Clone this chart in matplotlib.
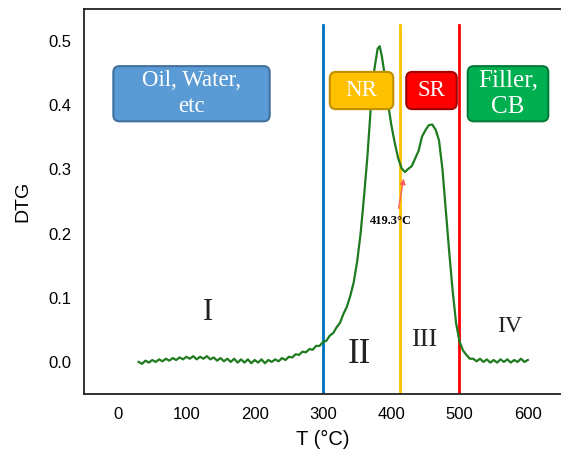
import matplotlib.pyplot as plt
from matplotlib.patches import FancyBboxPatch

# DTG curve (temperature in °C, derivative weight loss)
temp = [30, 35, 40, 45, 50, 55, 60, 65, 70, 75, 80, 85, 90, 95, 100, 105, 110, 115,
        120, 125, 130, 135, 140, 145, 150, 155, 160, 165, 170, 175, 180, 185, 190,
        195, 200, 205, 210, 215, 220, 225, 230, 235, 240, 245, 250, 255, 260, 265,
        270, 275, 280, 285, 290, 295, 300, 305, 310, 315, 320, 325, 330, 335, 340,
        345, 350, 355, 360, 365, 370, 375, 380, 383, 386, 390, 395, 400, 405, 410,
        415, 420, 425, 430, 435, 440, 445, 450, 455, 460, 465, 470, 475, 480, 485,
        490, 495, 500, 505, 510, 515, 520, 525, 530, 535, 540, 545, 550, 555, 560,
        565, 570, 575, 580, 585, 590, 595, 600]
dtg = [0.000, -0.003, 0.002, -0.001, 0.003, 0.000, 0.004, 0.001, 0.005, 0.002, 0.006,
       0.003, 0.007, 0.004, 0.008, 0.005, 0.009, 0.004, 0.008, 0.005, 0.009, 0.004,
       0.007, 0.002, 0.006, 0.001, 0.005, 0.000, 0.005, -0.001, 0.004, -0.001, 0.004,
       -0.002, 0.003, -0.001, 0.004, -0.002, 0.003, 0.000, 0.004, 0.001, 0.006, 0.003,
       0.008, 0.007, 0.012, 0.011, 0.016, 0.015, 0.020, 0.019, 0.025, 0.025, 0.031,
       0.033, 0.041, 0.045, 0.054, 0.061, 0.075, 0.086, 0.103, 0.124, 0.156, 0.199,
       0.256, 0.319, 0.396, 0.454, 0.488, 0.492, 0.478, 0.450, 0.405, 0.370, 0.342,
       0.318, 0.302, 0.296, 0.301, 0.305, 0.317, 0.329, 0.351, 0.361, 0.369, 0.370,
       0.362, 0.345, 0.300, 0.235, 0.170, 0.110, 0.060, 0.032, 0.018, 0.011, 0.005,
       0.005, 0.001, 0.005, 0.000, 0.004, -0.001, 0.003, -0.001, 0.004, 0.000, 0.004,
       -0.001, 0.003, 0.000, 0.005, 0.000, 0.003]

# stage boundaries
bounds = [300, 413, 499]
bound_colors = ["#0072BD", "#FFC000", "#FF0000"]

# component boxes: label, x0, x1, y0, y1, face, edge, font size
boxes = [
    ("Oil, Water,\netc", -7, 222, 0.375, 0.461, "#5B9BD5", "#41719C", 16.5),
    ("NR", 310, 403, 0.394, 0.452, "#FFC000", "#BF9000", 16.5),
    ("SR", 422, 496, 0.394, 0.452, "#FF0000", "#A00000", 16.5),
    ("Filler,\nCB", 512, 630, 0.375, 0.461, "#00B050", "#007A38", 18),
]

# stage numerals: text, x, y, size
stages = [("I", 132, 0.077, 22), ("II", 354, 0.011, 25),
          ("III", 449, 0.034, 19), ("IV", 574, 0.056, 17)]

fig = plt.figure(figsize=(5.61, 4.58), dpi=100)
ax = fig.add_axes([0.1497, 0.1397, 0.852, 0.8406])

ax.plot(temp, dtg, color="#1E7B1E", lw=1.6, zorder=3)

for b, c in zip(bounds, bound_colors):
    ax.plot([b, b], [-0.05, 0.525], color=c, lw=2, zorder=2)

aspect = (1 / 640) / (1 / 0.683)
for label, x0, x1, y0, y1, face, edge, fs in boxes:
    box = FancyBboxPatch((x0, y0), x1 - x0, y1 - y0,
                         boxstyle="round,pad=0,rounding_size=9",
                         mutation_aspect=aspect, facecolor=face,
                         edgecolor=edge, lw=1.5, zorder=4)
    ax.add_patch(box)
    ax.text((x0 + x1) / 2, (y0 + y1) / 2, label, ha="center", va="center",
            color="white", fontsize=fs, family="Liberation Serif",
            linespacing=1.3, zorder=5)

for s, x, y, size in stages:
    ax.text(x, y, s, ha="center", va="center", fontsize=size,
            family="Liberation Serif", color="#222222", zorder=5)

ax.annotate("", xy=(419, 0.29), xytext=(410, 0.235),
            arrowprops=dict(arrowstyle="-|>", color="#FF6060", lw=1,
                            mutation_scale=8), zorder=4)
ax.text(399, 0.219, "419.3°C", ha="center", va="center", fontsize=9,
        fontweight="bold", family="Liberation Serif", zorder=5)

ax.set_xlim(-50, 650)
ax.set_ylim(-0.05, 0.55)
ax.set_xticks([0, 100, 200, 300, 400, 500, 600])
ax.set_yticks([0.0, 0.1, 0.2, 0.3, 0.4, 0.5])
ax.set_yticklabels(["0.0", "0.1", "0.2", "0.3", "0.4", "0.5"])
ax.tick_params(length=0, labelsize=12, pad=9)
for lab in ax.get_xticklabels() + ax.get_yticklabels():
    lab.set_family("Liberation Sans")
ax.spines["right"].set_visible(False)
for sp in ["left", "bottom", "top"]:
    ax.spines[sp].set_linewidth(1.3)
    ax.spines[sp].set_color("#222222")

ax.set_xlabel("T (°C)", fontsize=14.5, family="Liberation Sans", labelpad=6)
ax.set_ylabel("DTG", fontsize=14, family="Liberation Sans", labelpad=12)

fig.savefig("out.png", dpi=100)
